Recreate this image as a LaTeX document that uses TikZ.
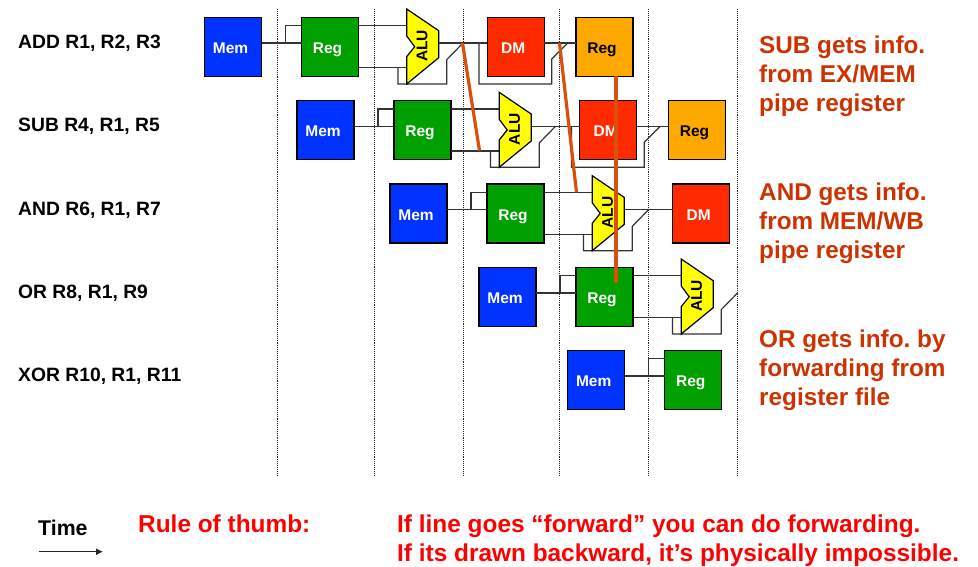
\documentclass[tikz,border=0pt]{standalone}
\usepackage{fontspec}
\setmainfont{Liberation Sans}
\usetikzlibrary{arrows.meta}
\definecolor{memblue}{HTML}{0033FF}
\definecolor{reggreen}{HTML}{00A000}
\definecolor{dmred}{HTML}{FF2A00}
\definecolor{regorange}{HTML}{FFA800}
\definecolor{alu}{HTML}{FFFF00}
\definecolor{fwd}{HTML}{D8500A}
\definecolor{note}{HTML}{CC3300}
\tikzset{
  unitbox/.style={draw=black,line width=1.2pt,outer sep=0pt,minimum width=57pt,minimum height=59pt,inner sep=0pt,anchor=north west,
    font=\fontsize{15.5}{17}\selectfont\bfseries,text height=13.2pt,text depth=0pt},
  wire/.style={draw=black!80,line width=1.2pt},
  timeline/.style={draw=black!85,densely dotted,line width=.9pt},
  forwardline/.style={draw=fwd,line width=3.2pt},
  alubody/.style={draw=black,line width=1.2pt,fill=alu},
  instr/.style={anchor=base west,inner sep=0pt,font=\fontsize{19.3}{22}\selectfont\bfseries},
  notetext/.style={anchor=north west,inner sep=0pt,align=left,text=note,font=\fontsize{24.3}{29}\selectfont\bfseries\frenchspacing},
  ruletext/.style={anchor=base west,inner sep=0pt,text=red,font=\fontsize{24.4}{29}\selectfont\bfseries\frenchspacing},
}
\begin{document}
\begin{tikzpicture}[x=1pt,y=-1pt]
\useasboundingbox[fill=white] (0,0) rectangle (978,566);
% dotted pipeline stage lines
\foreach \n/\x in {1/277.7,2/374.3,3/463,4/559.5,5/648.5,6/737}{
  \coordinate (tt\n) at (\x,9);
  \coordinate (tb\n) at (\x,475);
  \draw[timeline] (tt\n) -- (tb\n);
}
% instruction labels
\node[instr] (i1) at (18,48.3) {ADD R1, R2, R3};
\node[instr] (i2) at (18,131.4) {SUB R4, R1, R5};
\node[instr] (i3) at (18,215.2) {AND R6, R1, R7};
\node[instr] (i4) at (18,298.2) {OR R8, R1, R9};
\node[instr] (i5) at (18,381.2) {XOR R10, R1, R11};
% Mem and Reg of all rows
\foreach \r/\x/\y in {1/204.5/17.3,2/297/100.6,3/390/184,4/479/267.3,5/567.7/350.3}{
  \begin{scope}[shift={(\x,\y)}]
    \node[unitbox,fill=memblue,text=white] (mem\r) at (0,0) {Mem\kern5pt};
    \node[unitbox,fill=reggreen,text=white] (reg\r) at (97,0) {Reg\kern5pt};
    \coordinate (sp\r) at (81,25.7);
    \coordinate (spt\r) at (81,8.4);
    \draw[wire] ([yshift=3.8pt]mem\r.east) -- ([yshift=3.8pt]reg\r.west);
    \draw[wire] (sp\r) -- (spt\r) -- ([yshift=21.1pt]reg\r.west);
  \end{scope}
}
% ALU and its wires
\foreach \r/\x/\y in {1/204.5/17.3,2/297/100.6,3/390/184,4/479/267.3}{
  \begin{scope}[shift={(\x,\y)}]
    \coordinate (aluA\r) at (202.2,8.4);
    \coordinate (aluB\r) at (202.2,50.4);
    \coordinate (aluC\r) at (193.5,50.4);
    \coordinate (aluD\r) at (193.5,66.7);
    \coordinate (aluE\r) at (202.2,66.7);
    \coordinate (aluF\r) at (242.2,66.7);
    \coordinate (aluG\r) at (242.2,42.4);
    \coordinate (aluH\r) at (258.5,25.7);
    \draw[wire] ([yshift=21.1pt]reg\r.east) -- (aluA\r);
    \draw[wire] ([yshift=-20.9pt]reg\r.east) -- (aluB\r);
    \draw[wire] (aluC\r) -- (aluD\r) -- (aluF\r) -- (aluG\r) -- (aluH\r);
    \draw[alubody] (202.2,-8.3) -- (234.2,13.4) -- (234.2,40.4) -- (202.2,66.7)
      -- (202.2,39.4) -- (210.2,29.4) -- (202.2,18.7) -- cycle;
    \node[rotate=90,inner sep=0pt,font=\fontsize{15.5}{17}\selectfont\bfseries] (alut\r) at (217.5,28.5) {ALU};
  \end{scope}
}
% DM and its wires
\foreach \r/\x/\y in {1/204.5/17.3,2/297/100.6,3/390/184}{
  \begin{scope}[shift={(\x,\y)}]
    \node[unitbox,fill=dmred,text=white] (dm\r) at (282.7,0) {DM\kern5pt};
    \coordinate (aluO\r) at (234.2,25.7);
    \draw[wire] (aluO\r) -- ([yshift=3.8pt]dm\r.west);
  \end{scope}
}
% final Reg and wires
\foreach \r/\x/\y in {1/204.5/17.3,2/297/100.6}{
  \begin{scope}[shift={(\x,\y)}]
    \node[unitbox,fill=regorange,text=black] (wb\r) at (371.5,0) {Reg\kern5pt};
    \coordinate (dmA\r) at (274.5,25.7);
    \coordinate (dmB\r) at (274.5,66.7);
    \coordinate (dmC\r) at (347.2,66.7);
    \coordinate (dmD\r) at (347.2,41.7);
    \coordinate (dmE\r) at (363.2,25.7);
    \draw[wire] ([yshift=3.8pt]dm\r.east) -- ([yshift=3.8pt]wb\r.west);
    \draw[wire] (dmA\r) -- (dmB\r) -- (dmC\r) -- (dmD\r) -- (dmE\r);
  \end{scope}
}
% forwarding lines
\coordinate (f1a) at (462.5,43);
\coordinate (f1b) at (479.5,150.7);
\coordinate (f2a) at (559.5,43);
\coordinate (f2b) at (576.5,192.3);
\coordinate (f3a) at (616,76);
\coordinate (f3b) at (616,283);
\draw[forwardline] (f1a) -- (f1b);
\draw[forwardline] (f2a) -- (f2b);
\draw[forwardline] (f3a) -- (f3b);
% notes
\node[notetext] (n1) at (759,35.8) {SUB gets info.\\from EX/MEM\\pipe register};
\node[notetext] (n2) at (759,182.5) {AND gets info.\\from MEM/WB\\pipe register};
\node[notetext] (n3) at (759,329.5) {OR gets info. by\\forwarding from\\register file};
% bottom
\node[anchor=base west,inner sep=0pt,font=\fontsize{21.3}{24}\selectfont\bfseries] (time) at (38,535) {Time};
\coordinate (ta) at (39,551.7);
\coordinate (tz) at (103,551.7);
\draw[black!85,line width=1pt,-{Latex[length=7pt,width=7pt]}] (ta) -- (tz);
\node[ruletext] (rule) at (138,532.5) {Rule of thumb:};
\node[ruletext] (r1) at (397,532.9) {If line goes “forward” you can do forwarding.};
\node[ruletext] (r2) at (397,561.2) {If its drawn backward, it’s physically impossible.};
\end{tikzpicture}
\end{document}
